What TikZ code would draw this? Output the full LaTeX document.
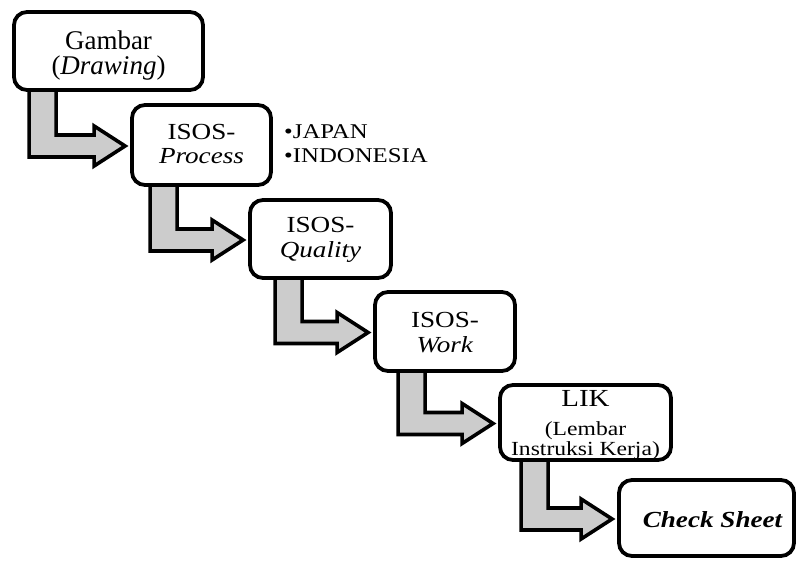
\documentclass[tikz,border=0pt]{standalone}
\usepackage{fontspec}
\setmainfont{Liberation Serif}
\newfontfamily\widerm{Liberation Serif}[FakeStretch=1.18]
\usetikzlibrary{calc}
\pgfdeclarelayer{background}
\pgfsetlayers{background,main}

% Centred lines of text; #1: height of the first baseline above the node
% centre, #2: distance between baselines, #3: the lines, separated by \cr.
\newcommand\textstack[3]{%
  \smash{\raisebox{#1}{\vtop{\baselineskip=#2\relax
    \lineskiplimit=-\maxdimen\halign{\hfil##\hfil\cr#3\crcr}}}}}

% L-shaped block arrow from the bottom of #1 to the left side of #2;
% #3 is the inset of the vertical bar from the left edge of #1.
\newcommand\stepflow[3]{%
  \begin{pgfonlayer}{background}
    \draw[flow] let \p1=(#1.south west), \p2=(#2.west) in
      (\x1+#3, \y1+6pt) -- (\x1+#3, \y2-12pt) -- (\x2-36pt, \y2-12pt)
      -- (\x2-36pt, \y2-21pt) -- (\x2-5pt, \y2-1pt) -- (\x2-36pt, \y2+19pt)
      -- (\x2-36pt, \y2+10pt) -- (\x1+#3+27pt, \y2+10pt)
      -- (\x1+#3+27pt, \y1+6pt) -- cycle;
  \end{pgfonlayer}}

\begin{document}
\begin{tikzpicture}[x=1pt,y=-1pt,
  box/.style={draw, line width=3.8pt, rounded corners=13pt, fill=white,
    inner sep=0pt, font=\widerm\fontsize{23}{25}\selectfont},
  flow/.style={draw, line width=3.6pt, fill=gray!40, miter limit=10},
  note/.style={anchor=base west, inner sep=0pt,
    font=\widerm\fontsize{21}{24}\selectfont}]
\useasboundingbox (0,0) rectangle (798,561);

% process steps
\node[box, minimum width=189pt, minimum height=78pt,
      font=\fontsize{27}{28}\selectfont] (gambar) at (108.5,51)
  {\textstack{1pt}{25pt}{Gambar\cr(\textit{Drawing})}};
\node[box, minimum width=139pt, minimum height=80pt] (process) at (201.5,145)
  {\textstack{5pt}{24pt}{ISOS-\cr\textit{Process}}};
\node[box, minimum width=141pt, minimum height=78pt] (quality) at (320.5,239)
  {\textstack{6pt}{25pt}{ISOS-\cr\textit{Quality}}};
\node[box, minimum width=140pt, minimum height=79pt] (work) at (445,331.5)
  {\textstack{4.5pt}{25pt}{ISOS-\cr\textit{Work}}};
\node[box, minimum width=171pt, minimum height=75pt] (lik) at (585.5,422.5)
  {\textstack{16pt}{19.5pt}{\fontsize{24.5}{25}\selectfont LIK\cr
   \noalign{\vskip9.5pt}
   \fontsize{20}{20}\selectfont(Lembar\cr
   \fontsize{20}{20}\selectfont Instruksi Kerja)}};
\node[box, minimum width=175pt, minimum height=76pt] (check) at (706.5,518)
  {\textstack{-9pt}{25pt}{\hspace{12pt}\bfseries\itshape Check Sheet}};

% variants of the process sheet
\node[note] (japan) at (284,139) {\textbullet JAPAN};
\node[note] (indonesia) at (284,163) {\textbullet INDONESIA};

% connectors
\stepflow{gambar}{process}{17pt}
\stepflow{process}{quality}{20pt}
\stepflow{quality}{work}{27pt}
\stepflow{work}{lik}{25pt}
\stepflow{lik}{check}{23pt}
\end{tikzpicture}
\end{document}
